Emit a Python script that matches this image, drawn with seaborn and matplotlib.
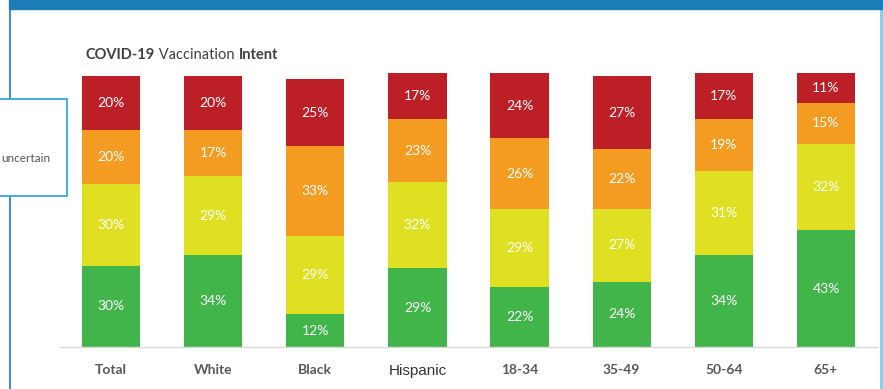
import numpy as np
import pandas as pd
import matplotlib.pyplot as plt
import seaborn as sns
from matplotlib.patches import Rectangle
from matplotlib.lines import Line2D

# values (percent)
categories = ["Total", "White", "Black", "Hispanic", "18-34", "35-49", "50-64", "65+"]
definitely = [30, 34, 12, 29, 22, 24, 34, 43]   # green
probably = [30, 29, 29, 32, 29, 27, 31, 32]     # yellow
uncertain = [20, 17, 33, 23, 26, 22, 19, 15]    # orange
no_vacc = [20, 20, 25, 17, 24, 27, 17, 11]      # red

series = [definitely, probably, uncertain, no_vacc]
colors = ["#41b54a", "#dfe021", "#f39c21", "#bc1f26"]

sns.set_style("white")
plt.rcParams["font.family"] = ["Lato", "DejaVu Sans"]

fig = plt.figure(figsize=(8.83, 3.89), dpi=100)
W, H = 883, 389
ax = fig.add_axes([60 / W, 1 - 347 / H, 817 / W, (347 - 62.5) / H])

df = pd.DataFrame({"cat": categories})
cum = np.cumsum(np.array(series), axis=0)

# stacked bars: draw the cumulative totals from top down
for k in range(len(series) - 1, -1, -1):
    df["h"] = cum[k]
    sns.barplot(data=df, x="cat", y="h", color=colors[k], width=0.57,
                saturation=1, ax=ax, errorbar=None, linewidth=0)

# segment labels
for k, vals in enumerate(series):
    bottoms = cum[k] - np.array(vals)
    for i, v in enumerate(vals):
        ax.text(i, bottoms[i] + v / 2, f"{v}%", ha="center", va="center",
                color="white", fontsize=10)

ax.set_xlim(-0.5, 7.5)
ax.set_ylim(0, 105)
ax.set_xlabel("")
ax.set_ylabel("")
ax.set_yticks([])
sns.despine(ax=ax, left=True)
ax.spines["bottom"].set_color("#d9d9d9")
ax.spines["bottom"].set_linewidth(1)
ax.tick_params(axis="x", length=0, pad=12)
ax.set_xticks(range(len(categories)))
ax.set_xticklabels(categories, fontsize=10, fontweight="bold", color="#595959")
hisp = ax.get_xticklabels()[3]
hisp.set_fontfamily("Liberation Sans")
hisp.set_fontweight("normal")
hisp.set_fontsize(11)
hisp.set_color("#333333")

# title with mixed weights
t1 = fig.text(86 / W, 1 - 55 / H, "COVID-19", fontsize=10.5, fontweight="bold",
              color="#404040", va="center")
t2 = ax.annotate(" Vaccination ", xy=(1, 0), xycoords=t1, va="bottom",
                 fontsize=10.5, color="#404040", annotation_clip=False)
t3 = ax.annotate("Intent", xy=(1, 0), xycoords=t2, va="bottom", fontsize=10.5,
                 fontweight="bold", color="#404040", annotation_clip=False)

# page decorations: top band, side rules, left callout box
fig.patches.append(Rectangle((9 / W, 1 - 8.5 / H), 1 - 9 / W, 8.5 / H,
                             transform=fig.transFigure, color="#1b7cb8", zorder=0))
fig.lines.append(Line2D([9.5 / W, 9.5 / W], [0, 1], transform=fig.transFigure,
                        color="#1b7cb8", lw=1.2, zorder=0))
fig.lines.append(Line2D([881 / W, 881 / W], [0, 1 - 8.5 / H], transform=fig.transFigure,
                        color="#8cc6e6", lw=2, zorder=0))
fig.patches.append(Rectangle((-1 / W, 1 - 196 / H), 68 / W, 97 / H,
                             transform=fig.transFigure, facecolor="white",
                             edgecolor="#3ba3dc", lw=1.3, zorder=2))
fig.text(1 / W, 1 - 158 / H, "uncertain", fontsize=8.5, color="#555555",
         va="center", ha="left", zorder=3)

fig.savefig("out.png", dpi=100)
